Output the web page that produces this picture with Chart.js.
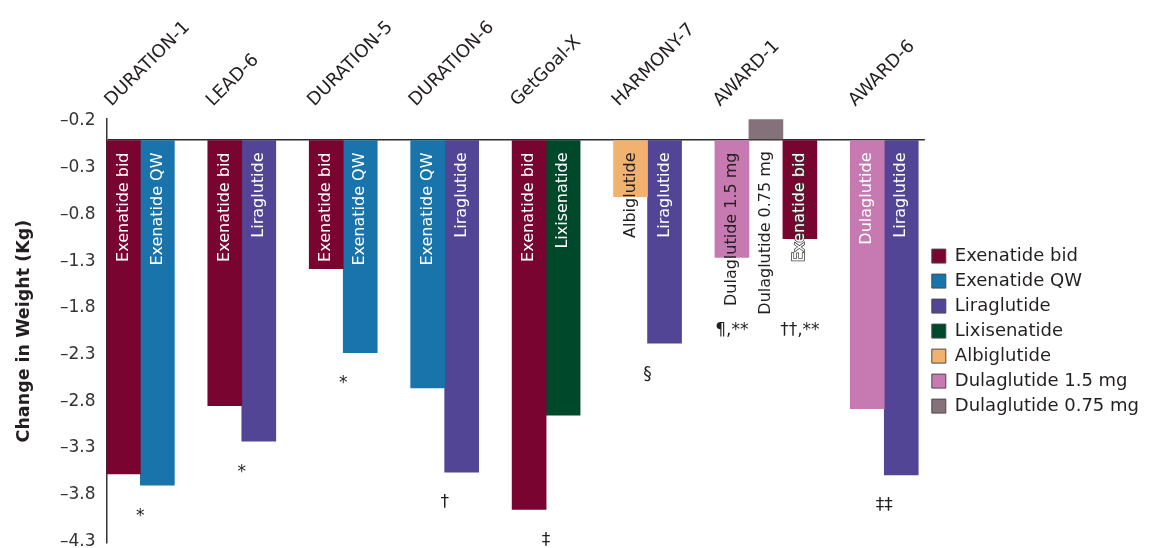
<!DOCTYPE html>
<html>
<head>
<meta charset="utf-8">
<script src="https://cdn.jsdelivr.net/npm/chart.js@4.4.1/dist/chart.umd.min.js"></script>
<style>
  html, body { margin: 0; background: #fff; }
  #wrap { width: 1149px; height: 548px; }
</style>
</head>
<body>
<div id="wrap"><canvas id="weightChart"></canvas></div>
<script>
// ── Data ────────────────────────────────────────────────────
const STUDIES = ["DURATION-1", "LEAD-6", "DURATION-5", "DURATION-6", "GetGoal-X", "HARMONY-7", "AWARD-1", "AWARD-6"];
const DRUGS = ["Exenatide bid", "Exenatide QW", "Liraglutide", "Lixisenatide", "Albiglutide", "Dulaglutide 1.5 mg", "Dulaglutide 0.75 mg"];
const COLORS = ["#7a0430", "#1874ab", "#534595", "#00482a", "#f0b26e", "#c77ab2", "#85717a"];
// left-to-right order of the bars inside a study group
const BAR_ORDER = ["Dulaglutide 1.5 mg", "Dulaglutide 0.75 mg", "Albiglutide", "Exenatide bid", "Exenatide QW", "Lixisenatide", "Liraglutide"];

const exenatideBid   = [-3.58, -2.85, -1.38, null, -3.96, null, -1.06, null];
const exenatideQW    = [-3.70, null, -2.28, -2.66, null, null, null, null];
const liraglutide    = [null, -3.23, null, -3.56, null, -2.18, null, -3.59];
const lixisenatide   = [null, null, null, null, -2.95, null, null, null];
const albiglutide    = [null, null, null, null, null, -0.61, null, null];
const dulaglutide15  = [null, null, null, null, null, null, -1.26, -2.88];
const dulaglutide075 = [null, null, null, null, null, null, 0.22, null];
const SERIES = [exenatideBid, exenatideQW, liraglutide, lixisenatide, albiglutide, dulaglutide15, dulaglutide075];

// text printed inside the dulaglutide 1.5 mg bars
const dul15Text = [null, null, null, null, null, null, "Dulaglutide 1.5 mg", "Dulaglutide"];

const Y_TICKS  = [0.2, -0.3, -0.8, -1.3, -1.8, -2.3, -2.8, -3.3, -3.8, -4.3];
const Y_LABELS = ["–0.2", "–0.3", "–0.8", "–1.3", "–1.8", "–2.3", "–2.8", "–3.3", "–3.8", "–4.3"];

const NOTES = [
  { study: "DURATION-1", text: "*" },
  { study: "LEAD-6", text: "*" },
  { study: "DURATION-5", text: "*" },
  { study: "DURATION-6", text: "†" },
  { study: "GetGoal-X", text: "‡" },
  { study: "HARMONY-7", text: "§" },
  { study: "AWARD-1", drug: "Dulaglutide 1.5 mg", text: "¶,**" },
  { study: "AWARD-1", drug: "Exenatide bid", text: "††,**" },
  { study: "AWARD-6", text: "‡‡" }
];

const FONT = "'DejaVu Sans', sans-serif";

// ── Group positions (one unit per bar, one unit gap) ───────
const GROUP_SIZES = STUDIES.map((_, i) => SERIES.filter(s => s[i] !== null).length);
const GROUP_CENTERS = [];
let cursor = 0;
GROUP_SIZES.forEach(n => {
  GROUP_CENTERS.push(cursor + n / 2);
  cursor += n + 1;
});
const X_MAX = cursor - 1 + 0.2;

/* ── Bar texts + footnote marks ─────────────────────────────*/
function isDark(hex) {
  const r = parseInt(hex.slice(1, 3), 16), g = parseInt(hex.slice(3, 5), 16), b = parseInt(hex.slice(5, 7), 16);
  return (0.299 * r + 0.587 * g + 0.114 * b) / 255 < 0.3;
}

const barTextPlugin = {
  id: "barText",
  afterDatasetsDraw(chart) {
    const ctx = chart.ctx;
    const barBottoms = STUDIES.map(() => 0);
    const textBottoms = STUDIES.map(() => 0);
    const barX = {};
    ctx.save();
    ctx.font = "16px " + FONT;
    ctx.textBaseline = "middle";
    ctx.textAlign = "right";
    chart.data.datasets.forEach((ds, di) => {
      const meta = chart.getDatasetMeta(di);
      meta.data.forEach((bar, i) => {
        if (SERIES[di][i] === null) return;
        const { x, y, base } = bar.getProps(["x", "y", "base"], true);
        const text = di === 5 ? dul15Text[i] : DRUGS[di];
        const top = base + 12;
        const textBottom = top + ctx.measureText(text).width;
        const barBottom = Math.max(y, base);
        barBottoms[i] = Math.max(barBottoms[i], barBottom);
        textBottoms[i] = Math.max(textBottoms[i], textBottom);
        barX[STUDIES[i] + "|" + DRUGS[di]] = x;

        ctx.save();
        ctx.translate(x, top);
        ctx.rotate(-Math.PI / 2);
        if (textBottom <= barBottom + 1) {
          ctx.fillStyle = "#ffffff";
        } else if (isDark(COLORS[di])) {
          ctx.strokeStyle = "#3a3a3a";
          ctx.lineWidth = 1.5;
          ctx.strokeText(text, 0, 0);
          ctx.fillStyle = "#ffffff";
        } else {
          ctx.fillStyle = "#231f20";
        }
        ctx.fillText(text, 0, 0);
        ctx.restore();
      });
    });

    ctx.font = "17px " + FONT;
    ctx.textAlign = "center";
    ctx.fillStyle = "#231f20";
    NOTES.forEach(n => {
      const i = STUDIES.indexOf(n.study);
      const x = n.drug ? barX[n.study + "|" + n.drug] : chart.scales.x.getPixelForValue(GROUP_CENTERS[i]);
      const y = Math.max(barBottoms[i] + 31, textBottoms[i] + 16);
      ctx.fillText(n.text, x, y);
    });
    ctx.restore();
  }
};

/* ── Chart ──────────────────────────────────────────────────*/
const datasets = DRUGS.map((drug, di) => ({
  label: drug,
  data: STUDIES.map((_, i) => ({ x: GROUP_CENTERS[i], y: SERIES[di][i] })),
  backgroundColor: COLORS[di],
  borderWidth: 0,
  barThickness: 34,
  skipNull: true,
  order: BAR_ORDER.indexOf(drug)
}));

new Chart(document.getElementById("weightChart"), {
  type: "bar",
  data: { datasets },
  options: {
    responsive: true,
    maintainAspectRatio: false,
    animation: false,
    layout: { padding: { left: 6, top: 9, right: 0, bottom: 5 } },
    scales: {
      x: {
        type: "linear",
        position: "top",
        min: 0,
        max: X_MAX,
        offset: false,
        grid: { display: false, drawTicks: false },
        border: { display: false },
        afterBuildTicks: scale => { scale.ticks = GROUP_CENTERS.map((c, i) => ({ value: c - GROUP_SIZES[i] / 2 + 0.5 })); },
        ticks: {
          autoSkip: false,
          minRotation: 45,
          maxRotation: 45,
          padding: 8,
          color: "#231f20",
          font: { family: FONT, size: 18 },
          callback: (v, i) => STUDIES[i]
        }
      },
      y: {
        min: -4.32,
        max: 0.22,
        afterBuildTicks: scale => { scale.ticks = Y_TICKS.map(v => ({ value: v })).concat([{ value: 0 }]); },
        afterFit: scale => { scale.paddingTop = 0; scale.paddingBottom = 0; },
        grid: {
          drawTicks: false,
          lineWidth: 1.5,
          color: c => (c.tick && c.tick.value === 0 ? "#2b2b2b" : "rgba(0,0,0,0)")
        },
        border: { display: true, color: "#333", width: 1.5 },
        ticks: {
          padding: 11,
          color: "#333",
          font: { family: FONT, size: 17 },
          callback: v => (v === 0 ? "" : Y_LABELS[Y_TICKS.indexOf(v)])
        },
        title: {
          display: true,
          text: "Change in Weight (Kg)",
          color: "#231f20",
          font: { family: FONT, size: 17.5, weight: "bold" },
          padding: { top: 8, bottom: 14 }
        }
      }
    },
    plugins: {
      legend: {
        position: "right",
        fullSize: false,
        labels: {
          boxWidth: 14,
          boxHeight: 14,
          padding: 7,
          color: "#231f20",
          font: { family: FONT, size: 18 },
          sort: (a, b) => a.datasetIndex - b.datasetIndex,
          generateLabels: chart => Chart.defaults.plugins.legend.labels.generateLabels(chart).map(l => Object.assign(l, { strokeStyle: "#4a4a4a", lineWidth: 1 }))
        }
      },
      tooltip: { enabled: false }
    }
  },
  plugins: [barTextPlugin]
});
</script>
</body>
</html>
